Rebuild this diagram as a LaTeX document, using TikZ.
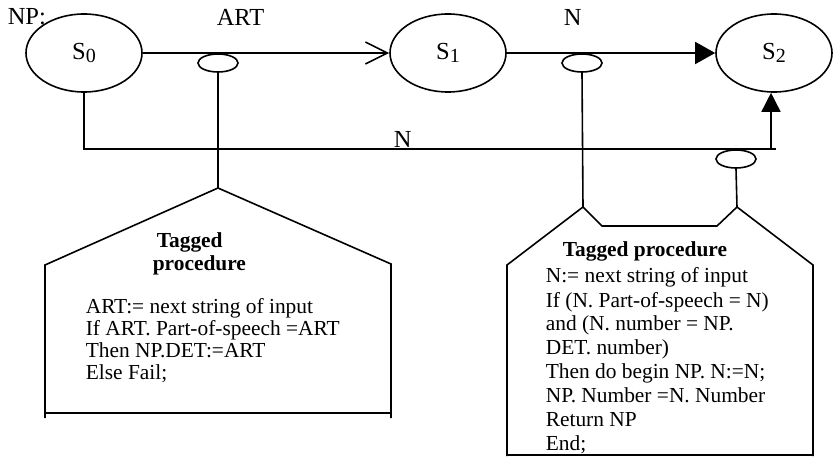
\documentclass[tikz,border=0pt]{standalone}
\usepackage{fontspec}
\setmainfont{Liberation Serif}
\usetikzlibrary{arrows.meta,shapes.geometric}
\newcommand\stlab[1]{S\raisebox{-3pt}{\fontsize{20}{20}\selectfont #1}}
\begin{document}
\begin{tikzpicture}[x=1pt,y=-1pt,line width=1.6pt,
  state/.style={draw,fill=white,ellipse,minimum width=116pt,minimum height=78pt,inner sep=0pt,font=\fontsize{24.5}{24.5}\selectfont},
  tagoval/.style={draw,fill=white,ellipse,minimum width=40pt,minimum height=18pt,inner sep=0pt},
  lbl/.style={anchor=base west,inner sep=0pt,font=\fontsize{24.5}{24.5}\selectfont},
  bodytxt/.style={anchor=base west,inner sep=0pt,font=\fontsize{21.4}{23}\selectfont},
  titletxt/.style={anchor=base west,inner sep=0pt,font=\fontsize{21.4}{23}\selectfont\bfseries},
  openarrow/.style={-{Straight Barb[length=22pt,width=22pt]}},
  fillarrow/.style={-{Triangle[length=20pt,width=22pt]}},
  uparrow/.style={-{Triangle[length=19pt,width=19pt]}},
]
\useasboundingbox (0,0) rectangle (833,457);

% labels on top
\node[lbl] (np) at (7,25) {NP:};
\node[lbl] (art) at (216,26) {ART};
\node[lbl] (ntop) at (563,26) {N};

% states
\node[state] (s0) at (84,53) {\stlab{0}};
\node[state] (s1) at (448,53) {\stlab{1}};
\node[state] (s2) at (774,53) {\stlab{2}};

% main arcs
\draw[openarrow] (s0) -- (s1);
\draw[fillarrow] (s1) -- (s2);

% lower N arc
\coordinate (nend) at (776,149);
\coordinate (nup) at (771,149);
\draw (s0.south) |- (nend);
\draw[uparrow] (nup) -- (nup |- s2.south);
\node[lbl] (nmid) at (393,148) {N};

% tag ovals
\node[tagoval] (ta) at (218,63) {};
\node[tagoval] (tb) at (582,63) {};
\node[tagoval] (tc) at (736,159) {};

% left procedure box
\coordinate (apa) at (218,188);
\draw (ta.south) -- (apa);
\draw (45,418) -- (45,265) -- (apa) -- (391,264) -- (391,418);
\draw (45,413) -- (391,413);
\node[titletxt] (lt1) at (156,248) {Tagged};
\node[titletxt] (lt2) at (152,270) {procedure};
\node[bodytxt] (l1) at (85,313) {ART:= next string of input};
\node[bodytxt] (l2) at (85,335) {If ART. Part-of-speech =ART};
\node[bodytxt] (l3) at (85,357) {Then NP.DET:=ART};
\node[bodytxt] (l4) at (85,379) {Else Fail;};

% right procedure box
\coordinate (pb1) at (583,207);
\coordinate (pb2) at (737,207);
\draw (tb.south) -- (pb1);
\draw (tc.south) -- (pb2);
\draw (507,456) -- (507,265) -- (pb1) -- (602,226) -- (717,226) -- (pb2) -- (813,265) -- (813,456);
\draw (507,455) -- (813,455);
\node[titletxt] (rt) at (562,257) {Tagged procedure};
\node[bodytxt] (r1) at (545,283) {N:= next string of input};
\node[bodytxt] (r2) at (545,307) {If (N. Part-of-speech = N)};
\node[bodytxt] (r3) at (545,330) {and (N. number = NP.};
\node[bodytxt] (r4) at (545,354) {DET. number)};
\node[bodytxt] (r5) at (545,378) {Then do begin NP. N:=N;};
\node[bodytxt] (r6) at (545,402) {NP. Number =N. Number};
\node[bodytxt] (r7) at (545,426) {Return NP};
\node[bodytxt] (r8) at (545,450) {End;};
\end{tikzpicture}
\end{document}
